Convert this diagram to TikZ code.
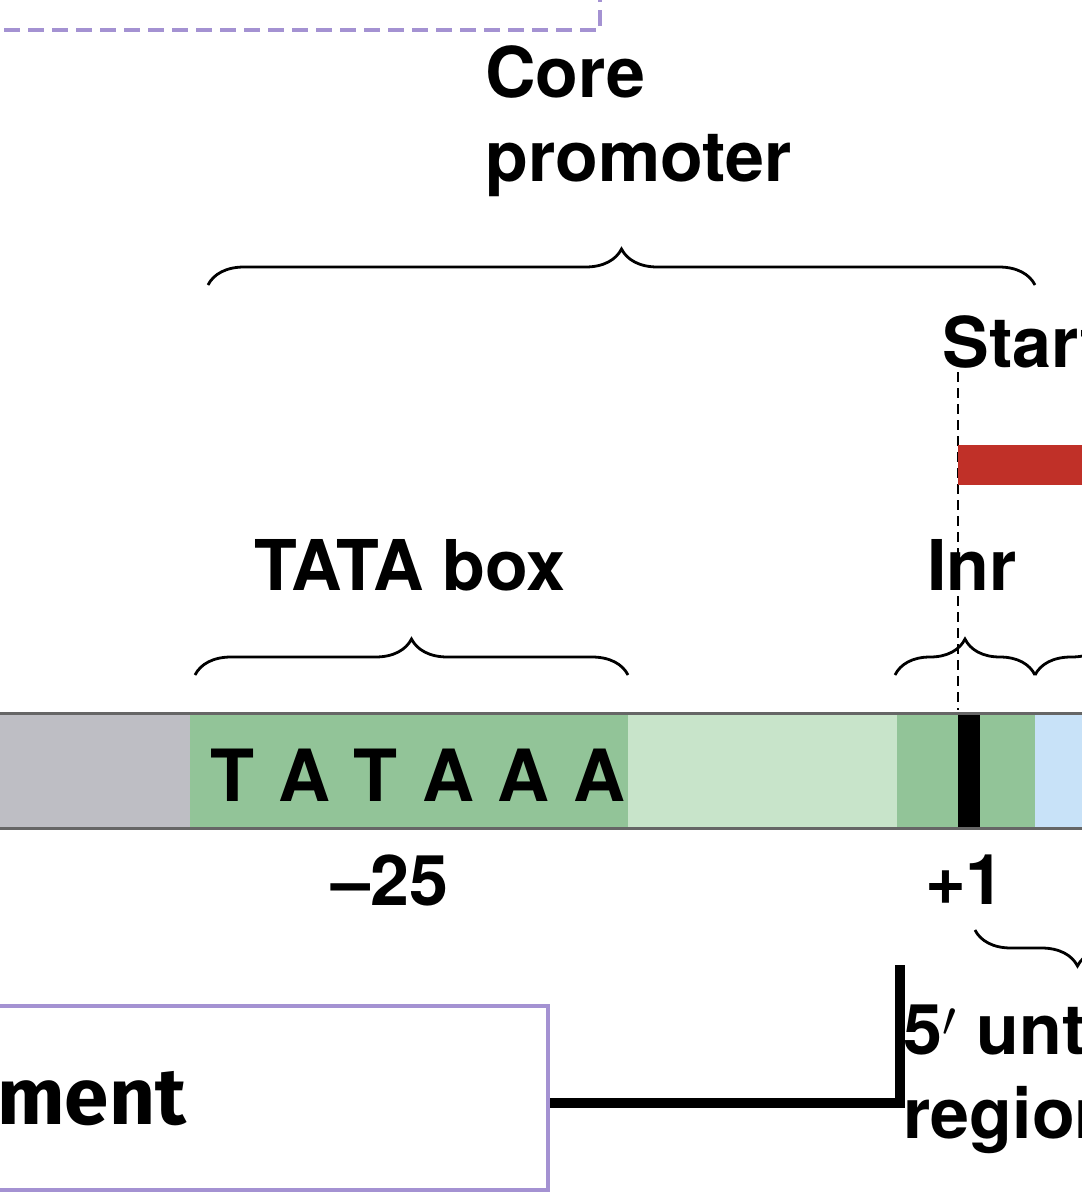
\documentclass[tikz,border=0pt]{standalone}
\usepackage{fontspec}
\setmainfont{TeX Gyre Heros}
\newfontfamily\boxfont{Fira Sans}
\usetikzlibrary{decorations.pathreplacing}
\definecolor{tatagreen}{RGB}{146,196,152}
\definecolor{palegreen}{RGB}{200,228,202}
\definecolor{dnagray}{RGB}{190,190,196}
\definecolor{paleblue}{RGB}{200,226,248}
\definecolor{startred}{RGB}{192,48,40}
\definecolor{boxpurple}{RGB}{164,146,210}
\tikzset{
  lbl/.style={font=\fontsize{35}{42}\selectfont\bfseries, inner sep=0pt},
  curly/.style={decorate, decoration={brace, amplitude=18pt}, line width=1.4pt},
}
\begin{document}
\begin{tikzpicture}[x=0.5pt, y=-0.5pt]
    \useasboundingbox (0,0) rectangle (1082,1200);
    \clip (0,0) rectangle (1082,1200);

    % enhancer box, dashed outline
    \draw [boxpurple, dash pattern=on 8pt off 4pt, line width=2pt] (-20,30) -- (600,30) -- (600,-20);

    % DNA strand
    \fill [dnagray] (-20,713) rectangle (190,828);
    \fill [tatagreen] (190,713) rectangle (628,828);
    \fill [palegreen] (628,713) rectangle (897,828);
    \fill [tatagreen] (897,713) rectangle (1035,828);
    \fill [paleblue] (1035,713) rectangle (1100,828);
    \fill [black] (958,713) rectangle (980,828);
    \draw [gray!80!black, line width=1.5pt] (-20,713) -- (1100,713) (-20,828) -- (1100,828);

    \node [lbl, font=\fontsize{36}{40}\selectfont\bfseries] (seq) at (418,775) {T\,\,A\,\,T\,\,A\,\,A\,\,A};
    \node [lbl] (m25) at (390,880) {\textendash25};
    \node [lbl] (p1) at (965,880) {+1};

    % core promoter
    \node [lbl, align=left, anchor=north west] (core) at (485,45) {Core\\promoter};
    \draw [curly] (208,285) -- (1035,285);

    % start site
    \node [lbl, anchor=west] (start) at (942,342) {Start site};
    \coordinate (tss) at (958,710);
    \draw [dash pattern=on 5pt off 3pt, line width=1.2pt] (958,372) -- (tss);
    \fill [startred] (958,445) rectangle (1100,485);

    % TATA box and Inr
    \node [lbl] (tata) at (410,565) {TATA box};
    \draw [curly] (195,675) -- (628,675);
    \node [lbl] (inr) at (972,565) {Inr};
    \draw [curly] (895,675) -- (1035,675);
    \draw [curly] (1035,675) -- (1180,675);

    % 5' untranslated region
    \draw [curly] (1180,930) -- (975,930);
    \node [lbl, align=left, anchor=north west] (utr) at (903,1003) {5$'$ untranslated\\region};

    % element box
    \node [draw=boxpurple, line width=2pt, minimum width=600pt, minimum height=92pt,
           anchor=east, inner sep=0pt] (elem) at (550,1098) {};
    \node [font=\fontsize{40}{44}\selectfont\boxfont\bfseries, anchor=west, inner sep=0pt] (elemtxt) at (-112,1095) {Element};
    \coordinate (utrtop) at (900,965);
    \draw [line width=5pt] (elem.east |- 0,1103) -- (900,1103) -- (utrtop);
\end{tikzpicture}
\end{document}
